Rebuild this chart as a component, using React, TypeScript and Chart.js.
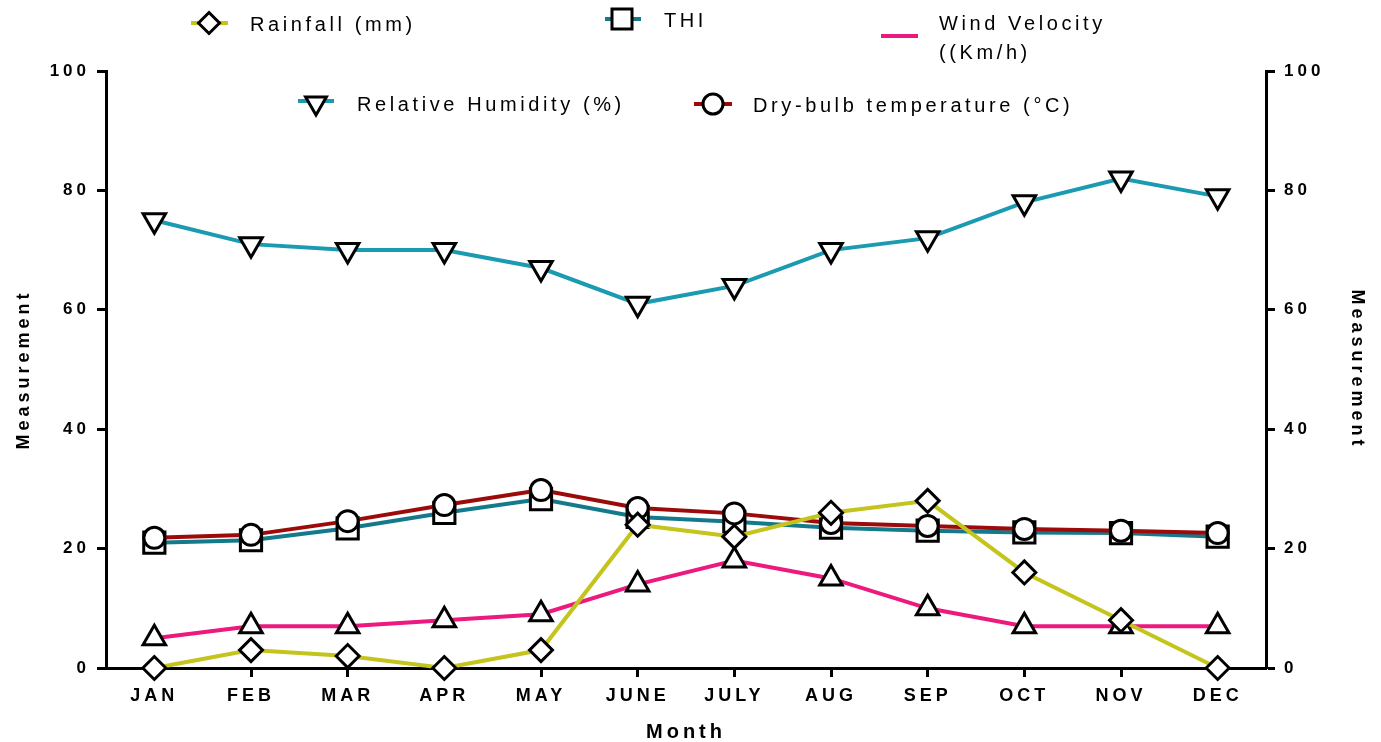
import React, { useEffect, useRef } from 'react';
import { Chart, registerables } from 'chart.js';

Chart.register(...registerables);

const months = ['JAN', 'FEB', 'MAR', 'APR', 'MAY', 'JUNE', 'JULY', 'AUG', 'SEP', 'OCT', 'NOV', 'DEC'];
const rainfall = [0, 3, 2, 0, 3, 24, 22, 26, 28, 16, 8, 0];
const thi = [21, 21.4, 23.4, 26, 28.3, 25.3, 24.5, 23.5, 23, 22.7, 22.6, 22];
const relativeHumidity = [75, 71, 70, 70, 67, 61, 64, 70, 72, 78, 82, 79];
const windVelocity = [5, 7, 7, 8, 9, 14, 18, 15, 10, 7, 7, 7];
const dryBulb = [21.8, 22.3, 24.6, 27.3, 29.8, 26.8, 25.9, 24.3, 23.8, 23.3, 23, 22.6];
const yTickValues = [0, 20, 40, 60, 80, 100];

const COLORS = {
  rain: '#c4c41c',
  thi: '#15798c',
  rh: '#1a9bb1',
  wind: '#ec1a7e',
  dry: '#9c0a0a',
};

const FONT = "'Liberation Sans', Arial, Helvetica, sans-serif";

type Marker = 'diamond' | 'square' | 'triUp' | 'triDown' | 'circle' | 'none';

function drawMarker(ctx: CanvasRenderingContext2D, kind: Marker, x: number, y: number) {
  ctx.save();
  ctx.lineWidth = 3;
  ctx.strokeStyle = '#000';
  ctx.fillStyle = '#fff';
  ctx.beginPath();
  if (kind === 'diamond') {
    const r = 10.5;
    ctx.moveTo(x, y - r);
    ctx.lineTo(x + r, y);
    ctx.lineTo(x, y + r);
    ctx.lineTo(x - r, y);
    ctx.closePath();
  } else if (kind === 'square') {
    const s = 10;
    ctx.rect(x - s, y - s, 2 * s, 2 * s);
  } else if (kind === 'triDown') {
    const r = 12;
    ctx.moveTo(x - r * 0.866, y - r * 0.5);
    ctx.lineTo(x + r * 0.866, y - r * 0.5);
    ctx.lineTo(x, y + r);
    ctx.closePath();
  } else if (kind === 'triUp') {
    const r = 12;
    ctx.moveTo(x - r * 0.866, y + r * 0.5);
    ctx.lineTo(x + r * 0.866, y + r * 0.5);
    ctx.lineTo(x, y - r);
    ctx.closePath();
  } else if (kind === 'circle') {
    ctx.arc(x, y, 10, 0, Math.PI * 2);
  }
  if (kind !== 'none') {
    ctx.fill();
    ctx.stroke();
  }
  ctx.restore();
}

const legendPlugin = {
  id: 'customLegend',
  beforeDraw(chart: any) {
    (chart.ctx as any).letterSpacing = '4px';
  },
  afterDraw(chart: any) {
    const ctx: CanvasRenderingContext2D = chart.ctx;
    ctx.save();
    (ctx as any).letterSpacing = '3.6px';
    ctx.font = `20px ${FONT}`;
    ctx.fillStyle = '#000';
    ctx.textBaseline = 'middle';
    ctx.textAlign = 'left';
    const items: Array<{ color: string; marker: Marker; x1: number; x2: number; ly: number; mx: number; my: number; tx: number; lines: string[]; ty: number }> = [
      { color: COLORS.rain, marker: 'diamond', x1: 191, x2: 228, ly: 23, mx: 209, my: 23, tx: 250, lines: ['Rainfall (mm)'], ty: 25 },
      { color: COLORS.thi, marker: 'square', x1: 605, x2: 641, ly: 19, mx: 622, my: 19, tx: 664, lines: ['THI'], ty: 21 },
      { color: COLORS.wind, marker: 'none', x1: 881, x2: 918, ly: 36, mx: 0, my: 0, tx: 939, lines: ['Wind Velocity', '((Km/h)'], ty: 24 },
      { color: COLORS.rh, marker: 'triDown', x1: 298, x2: 334, ly: 101, mx: 316, my: 103, tx: 357, lines: ['Relative Humidity (%)'], ty: 105 },
      { color: COLORS.dry, marker: 'circle', x1: 694, x2: 732, ly: 104, mx: 713, my: 104, tx: 753, lines: ['Dry-bulb temperature (\u00B0C)'], ty: 106 },
    ];
    for (const it of items) {
      ctx.strokeStyle = it.color;
      ctx.lineWidth = 4;
      ctx.beginPath();
      ctx.moveTo(it.x1, it.ly);
      ctx.lineTo(it.x2, it.ly);
      ctx.stroke();
      drawMarker(ctx, it.marker, it.mx, it.my);
      it.lines.forEach((t, i) => ctx.fillText(t, it.tx, it.ty + i * 29));
    }
    ctx.restore();
  },
};

export default function App() {
  const ref = useRef<HTMLCanvasElement | null>(null);
  useEffect(() => {
    if (!ref.current) return;
    const tickFont = { family: FONT, size: 18, weight: 'bold' as const };
    const yTickFont = { family: FONT, size: 17, weight: 'bold' as const };
    const yTitleFont = { family: FONT, size: 18, weight: 'bold' as const };
    const xTitleFont = { family: FONT, size: 20, weight: 'bold' as const };
    const common = {
      borderWidth: 4,
      pointBorderColor: '#000',
      pointBackgroundColor: '#fff',
      pointBorderWidth: 3,
      tension: 0,
      clip: false as const,
    };
    const yAxis = (position: 'left' | 'right', width: number) => ({
      position,
      min: 0,
      max: 100,
      afterBuildTicks: (s: any) => {
        s.ticks = yTickValues.map((v) => ({ value: v }));
      },
      grid: { drawOnChartArea: false, drawTicks: true, tickLength: 9, tickWidth: 3, tickColor: '#000' },
      border: { display: true, color: '#000', width: 3 },
      ticks: { color: '#000', font: yTickFont, padding: position === 'left' ? 7 : 9 },
      title: { display: true, text: 'Measurement', color: '#000', font: yTitleFont, padding: { top: 13, bottom: 0 } },
      afterFit: (s: any) => {
        s.width = width;
      },
    });
    const chart = new Chart(ref.current, {
      type: 'line',
      data: {
        labels: months,
        datasets: [
          { ...common, label: 'Rainfall (mm)', data: rainfall, borderColor: COLORS.rain, pointStyle: 'rectRot', pointRadius: 11.5 },
          { ...common, label: 'Wind Velocity ((Km/h)', data: windVelocity, borderColor: COLORS.wind, pointStyle: 'triangle', pointRadius: 13 },
          { ...common, label: 'Dry-bulb temperature (\u00B0C)', data: dryBulb, borderColor: COLORS.dry, pointStyle: 'circle', pointRadius: 10.5 },
          { ...common, label: 'THI', data: thi, borderColor: COLORS.thi, pointStyle: 'rect', pointRadius: 15 },
          { ...common, label: 'Relative Humidity (%)', data: relativeHumidity, borderColor: COLORS.rh, pointStyle: 'triangle', pointRotation: 180, pointRadius: 13 },
        ],
      },
      options: {
        responsive: false,
        animation: false,
        events: [],
        layout: { padding: { top: 71, left: 0, right: 0, bottom: 0 } },
        plugins: { legend: { display: false }, tooltip: { enabled: false } },
        scales: {
          x: {
            type: 'category',
            offset: true,
            grid: { drawOnChartArea: false, drawTicks: true, tickLength: 9, tickWidth: 3, tickColor: '#000', offset: false },
            border: { display: true, color: '#000', width: 3 },
            ticks: { color: '#000', font: tickFont, padding: 8, maxRotation: 0, autoSkip: false },
            title: { display: true, text: 'Month', color: '#000', font: xTitleFont, padding: { top: 0, bottom: -2 } },
            afterFit: (s: any) => {
              s.height = 74;
            },
          },
          y: yAxis('left', 106),
          y1: yAxis('right', 115),
        },
      } as any,
      plugins: [legendPlugin],
    });
    return () => chart.destroy();
  }, []);
  return (
    <div style={{ position: 'fixed', left: 0, top: 0, width: 1381, height: 742, background: '#fff' }}>
      <canvas ref={ref} width={1381} height={742} style={{ display: 'block' }} />
    </div>
  );
}
